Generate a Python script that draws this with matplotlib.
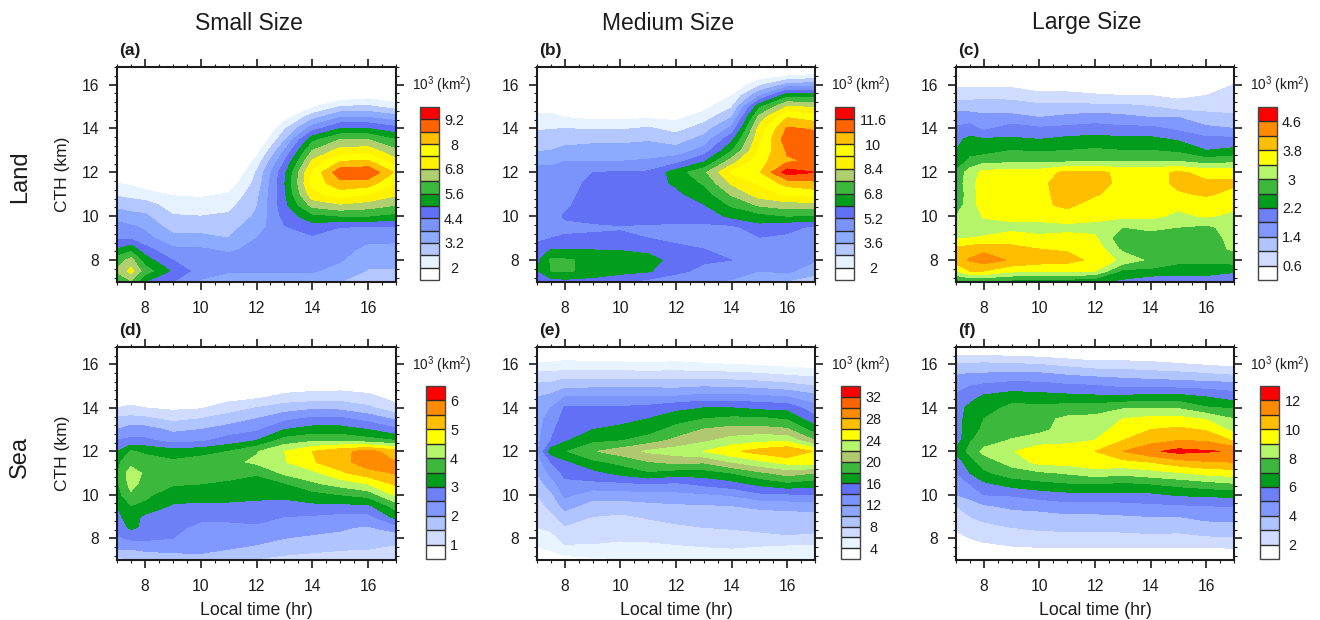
import numpy as np
import matplotlib
matplotlib.use("Agg")
import matplotlib.pyplot as plt
from matplotlib.ticker import MultipleLocator

plt.rcParams['font.family'] = ['Liberation Sans', 'DejaVu Sans']
plt.rcParams['mathtext.fontset'] = 'custom'
plt.rcParams['mathtext.rm'] = 'Liberation Sans'
plt.rcParams['mathtext.it'] = 'Liberation Sans'
plt.rcParams['mathtext.bf'] = 'Liberation Sans:bold'

W, H = 1320, 620

times = [7, 7.5, 8, 9, 10, 11, 12, 13, 14, 15, 16, 17]
heights = [7 + 0.5 * i for i in range(21)]

# One vertical profile per local time, from 7 km upward; the rest of each profile is cloud free.
panel_a = [
 [5.6,6.3,5.9,5.0,4.3,4.0,3.6,3.0,2.5,2.0,1.5,1.1,.8,.6,.4,.3,.2,.1,.1],
 [6.1,7.0,6.4,5.4,4.3,3.9,3.4,2.9,2.4,1.9,1.3,1.0,.7,.5,.4,.3,.2,.1,.1],
 [5.0,5.9,5.3,4.6,4.0,3.7,3.3,2.9,2.2,1.7,1.2,.9,.7,.5,.4,.3,.2,.1,.1],
 [4.4,4.9,4.4,3.9,3.4,2.95,2.65,2.3,1.95,1.5,1.1,.8,.6,.4,.3,.2,.1,.1],
 [3.7,4.1,4.1,3.85,3.4,2.9,2.6,2.25,1.9,1.4,1.0,.7,.5,.4,.3,.2,.1,.1],
 [3.5,3.85,4.0,3.7,3.2,3.0,2.7,2.4,2.05,1.6,1.1,.8,.6,.4,.3,.2,.1,.1],
 [3.5,3.85,3.95,3.95,3.8,3.5,3.3,3.15,3.0,2.8,2.65,2.2,1.7,1.2,.8,.5,.3,.2,.1],
 [3.5,3.85,4.0,4.1,4.2,4.35,4.6,4.8,4.9,4.95,4.85,4.4,3.8,3.1,2.5,1.7,1.0,.6,.3,.1],
 [3.5,3.85,4.0,4.1,4.3,4.7,5.4,6.4,7.2,7.6,7.5,6.9,6.2,5.4,4.1,3.0,1.9,1.0,.5,.2],
 [3.2,3.6,3.85,4.0,4.2,4.4,5.6,6.7,7.7,8.4,9.0,8.0,7.0,6.2,5.0,3.8,2.6,1.5,.8,.3],
 [3.0,3.15,3.4,3.65,3.95,4.35,5.6,6.5,7.4,8.3,9.1,8.1,7.1,6.2,5.0,3.8,2.7,1.7,.9,.3],
 [2.9,3.15,3.4,3.6,3.95,4.3,5.4,6.2,6.9,7.4,7.9,7.0,6.3,5.6,4.6,3.5,2.3,1.5,1.0,.4],
]
panel_b = [
 [5.3,5.95,5.8,5.5,5.0,4.95,4.9,4.9,4.8,4.7,4.6,4.3,3.5,3.2,2.7,2.2,1.7,1.2,.8,.5,.3],
 [5.6,6.8,6.9,6.0,5.2,5.1,5.0,4.9,4.85,4.75,4.6,4.25,3.6,3.25,2.75,2.2,1.7,1.2,.8,.5,.3],
 [5.7,6.9,6.9,6.0,5.25,5.1,5.25,5.1,5.0,4.85,4.65,4.4,3.8,3.3,2.8,2.0,1.4,1.0,.7,.4,.2],
 [5.6,6.6,6.6,5.95,5.3,5.1,5.4,5.5,5.45,5.4,5.2,4.4,3.9,3.4,2.7,1.8,1.3,.9,.6,.3,.1],
 [5.3,6.3,6.6,5.9,5.3,5.15,5.5,5.6,5.6,5.55,5.25,4.4,3.9,3.4,2.7,1.8,1.2,.8,.5,.3,.1],
 [4.9,6.1,6.4,5.7,5.2,5.1,5.5,5.6,5.7,5.7,5.3,4.5,4.0,3.5,2.9,1.9,1.2,.8,.5,.3,.1],
 [4.7,5.4,5.6,5.3,5.1,5.1,5.4,5.75,5.85,6.1,6.4,4.9,3.9,3.2,2.5,1.8,1.2,.8,.5,.3,.1],
 [4.5,5.0,5.3,5.2,5.0,5.05,5.5,5.95,6.4,6.9,7.4,5.9,4.7,3.9,3.2,2.4,1.7,1.2,.7,.3,.1],
 [4.3,4.7,5.2,5.0,4.9,5.0,6.2,6.9,7.7,8.5,9.3,8.0,6.7,5.8,4.6,3.6,2.7,2.0,1.2,.6,.2],
 [3.5,4.4,4.7,4.9,5.15,5.7,6.5,7.7,8.8,9.3,9.9,9.7,9.3,9.0,8.7,7.9,6.6,4.3,2.6,1.2,.5],
 [3.5,4.6,4.9,5.0,5.1,5.35,6.8,8.0,9.3,10.3,12.0,10.7,10.9,11.3,10.9,10.0,8.4,6.5,3.8,1.5,.5],
 [3.3,3.8,4.5,4.8,5.0,5.1,6.7,8.0,9.5,10.6,11.6,10.9,11.0,11.2,10.7,9.6,8.3,6.4,4.0,1.8,.6],
]
panel_c = [
 [2.4,3.4,4.0,3.9,3.35,3.1,3.0,2.8,2.7,2.75,2.7,2.3,2.2,2.1,1.85,1.6,1.2,.85,.5,.2],
 [2.5,3.8,4.25,4.0,3.4,3.2,3.1,3.2,3.2,3.25,3.2,2.7,2.45,2.3,1.95,1.6,1.2,.85,.5,.2],
 [2.5,3.8,4.4,4.1,3.45,3.2,3.45,3.6,3.6,3.65,3.5,2.9,2.4,2.25,1.7,1.5,1.2,.9,.5,.2],
 [2.4,3.5,4.15,3.95,3.55,3.3,3.5,3.65,3.55,3.6,3.6,2.9,2.6,2.25,2.0,1.5,1.2,.85,.5,.2],
 [2.4,3.45,4.0,3.8,3.55,3.1,3.7,3.7,3.7,3.7,3.6,2.9,2.55,2.2,1.85,1.4,1.1,.7,.4,.2],
 [2.3,3.45,3.95,3.75,3.5,3.3,3.6,3.9,3.95,4.0,3.9,2.95,2.6,2.3,1.9,1.5,1.1,.7,.4,.2],
 [2.25,3.4,3.7,3.65,3.45,3.3,3.5,3.6,3.85,3.95,3.9,3.0,2.65,2.35,1.95,1.6,1.1,.65,.3,.1],
 [2.1,2.5,3.3,2.9,2.7,3.0,3.5,3.6,3.6,3.7,3.7,3.0,2.6,2.3,1.9,1.5,1.1,.6,.3,.1],
 [1.85,2.5,2.9,2.8,2.8,3.1,3.5,3.6,3.7,3.6,3.7,3.0,2.6,2.3,1.9,1.4,1.0,.6,.3,.1],
 [1.9,2.4,2.7,2.8,2.8,3.0,3.3,3.5,3.75,3.9,3.85,3.0,2.5,2.15,1.7,1.4,.8,.5,.25,.1],
 [1.9,2.4,2.7,2.85,2.85,2.9,3.45,3.6,3.85,3.85,3.7,2.8,2.2,1.9,1.5,1.1,.9,.6,.3,.1],
 [1.9,2.25,2.8,3.05,3.1,3.2,3.3,3.5,3.7,3.85,3.7,2.9,2.3,1.9,1.4,1.05,.9,.8,.6,.3,.1],
]
panel_d = [
 [1.3,2.0,2.4,2.7,2.9,3.0,3.3,3.4,3.45,3.4,3.0,2.5,2.0,1.6,1.0,.7,.4,.2,.1],
 [1.5,2.0,2.6,3.1,3.2,3.5,3.9,4.2,4.3,3.8,3.55,2.6,2.25,1.65,1.1,.7,.4,.2,.1],
 [1.6,2.1,2.6,2.9,2.9,3.4,3.6,3.8,3.9,3.75,3.4,2.6,2.2,1.6,1.0,.6,.3,.1],
 [1.6,2.2,2.5,2.6,2.8,2.95,3.25,3.55,3.7,3.6,3.2,2.3,1.9,1.35,.9,.5,.3,.1],
 [1.7,2.2,2.4,2.4,2.6,2.9,3.2,3.5,3.7,3.75,3.3,2.4,2.0,1.5,.95,.5,.3,.1],
 [1.5,2.0,2.3,2.4,2.6,2.9,3.2,3.45,3.6,3.85,3.5,2.7,2.25,1.7,1.3,.75,.4,.2],
 [1.45,1.9,2.15,2.4,2.7,2.9,3.1,3.3,3.55,4.1,3.95,3.0,2.4,2.0,1.5,.9,.4,.2],
 [1.3,1.75,2.0,2.2,2.5,2.85,3.1,3.45,4.1,4.45,4.5,3.7,3.0,2.35,1.75,1.15,.7,.3,.1],
 [1.2,1.65,1.95,2.1,2.45,2.9,3.3,3.9,4.35,4.95,5.0,3.9,3.2,2.6,1.9,1.2,.8,.3,.1],
 [1.1,1.55,1.9,2.05,2.35,2.9,3.5,4.2,4.9,5.3,5.35,3.9,3.2,2.6,1.85,1.25,.8,.3,.1],
 [1.1,1.5,1.85,1.95,2.35,2.9,3.7,4.5,5.3,5.8,5.7,3.7,3.0,2.3,1.6,1.15,.7,.3,.1],
 [.9,1.4,1.65,2.3,3.2,3.75,4.6,5.1,5.55,5.5,5.2,3.5,2.6,1.9,1.15,.8,.5,.2],
]
panel_e = [
 [2,3.8,4.6,6,6.6,7.3,8,9,10,11,11.5,11.4,11.2,11,10.8,10,8.5,6.7,4.4,2.5,1],
 [2.5,4.2,5.2,6.5,7.5,8.5,9.5,11,12.5,14,17,14,13.6,13,12,10.5,8.7,6.7,4.4,2.5,1],
 [3,5.5,6.6,7.8,9,10.8,12.5,13.5,14.5,15.5,17.8,15.7,15,14.6,14.2,12,9.5,7.2,4.6,2.8,1],
 [3.5,5.5,6.5,7.5,8,9.2,10.8,13.5,15.3,17.5,19.8,17.5,16,15,14.3,12,9.6,7,4.5,2.7,1],
 [3.8,5.4,6.2,7,7.7,9,11,13.5,16.6,18.5,21,17.9,16.6,15.2,14.3,12,9.8,7,4.5,2.3,.8],
 [4,5.6,6.2,7.3,8.2,9.4,11.3,14,17.7,19.8,22.3,19,17,16,14.6,12.1,9.6,7,4.4,2,.6],
 [4.1,5.7,6.4,7.8,8.4,9.7,11.4,13.6,17,20.5,23,20.5,18.8,17,15.5,12.2,9.5,7,4.5,2.5,1],
 [4,5.8,6.7,8,8.5,9.8,11.7,14.5,17,20.2,24,21.6,20.1,18,16,12.8,9.8,7,4.3,1.7,.5],
 [3.9,5.9,7,8.2,8.8,10,12.2,15.2,18,22,25.6,22.8,20.7,18.4,16,12.8,9.6,6.8,4,1.6,.5],
 [3.8,5.5,7.3,8.5,9.2,10.4,13.5,16.5,19.5,23.5,26.8,23.5,20.7,18.4,15.5,12.5,9.3,6.5,3.7,1.5,.4],
 [3.8,5,7.6,8.8,9.2,10.7,13.7,17.5,20.8,24.7,27.8,23.5,20.3,17.7,15.3,12,8.8,6,3.3,1.3,.4],
 [3.8,5,7.5,8.5,9.3,10.8,14,16.8,20,25,25.8,20,17,14.5,12.8,10.7,8,5.6,3,1.2,.3],
]
panel_f = [
 [.5,1,1.6,2.2,2.6,3,4,4.5,5,5.4,6.2,5.5,5.5,5.6,5.5,5.2,4.6,4,3.2,1.7,.8],
 [.6,1.2,2,2.6,3,3.4,4.4,5,6,6.6,7.3,6.9,6.5,6.4,6.3,5.6,5,4.2,3.1,1.8,.8],
 [.7,1.5,2.3,2.8,3.2,3.9,5,5.8,6.8,7.4,8.3,7.5,7.2,7,6.5,6.2,5.2,4.2,3.2,1.8,.8],
 [.9,1.8,2.5,3,3.6,4.2,5.1,6.4,7.5,8.4,8.9,8.1,7.5,7.4,7.3,6.5,5.5,4.3,3.1,1.6,.7],
 [1,1.9,2.5,3.2,3.7,4.3,5.5,6.7,7.8,9.3,9.8,8.4,7.8,7.7,7.3,6.4,5.4,4.3,3,1.5,.6],
 [1,1.9,2.5,3.3,3.8,4.6,5.7,6.9,8.1,9.4,9.9,8.6,8.3,8.2,7.4,6.3,5.2,4,2.7,1.3,.5],
 [1,1.9,2.5,3.3,3.8,4.6,5.7,7,8.5,9.7,10,9,8.6,8.3,7.5,6.2,5.1,3.8,2.4,1.2,.5],
 [1,1.9,2.6,3.3,3.9,4.6,5.8,6.8,8.3,9.7,11,10,9.4,9,7.9,6.2,4.8,3.7,2.4,1.2,.5],
 [1.1,1.9,2.7,3.4,4,4.8,5.8,7,8.6,10,11.8,10.6,10,9.3,7.9,6.4,4.8,3.5,2.3,1.1,.5],
 [1.2,1.9,2.6,3.4,4,4.9,6.1,7.3,8.9,10.6,12.3,11,10.2,9.3,7.9,6.4,4.7,3.4,2.1,1,.4],
 [1.3,1.9,2.8,3.7,4.2,5,6.2,7.6,9.3,10.9,12.1,10.9,9.9,8.9,7.1,6,4.6,3.2,1.9,1,.4],
 [1.4,1.9,2.9,3.8,4.2,5.1,6.3,7.9,9.5,11,11.9,9.9,8.7,8,6.9,5.5,4.5,3,1.7,.9,.3],
]

levels_a = [2, 2.6, 3.2, 3.8, 4.4, 5, 5.6, 6.2, 6.8, 7.4, 8, 8.6, 9.2]
levels_b = [2, 2.8, 3.6, 4.4, 5.2, 6, 6.8, 7.6, 8.4, 9.2, 10, 10.8, 11.6]
levels_c = [0.6, 1, 1.4, 1.8, 2.2, 2.6, 3, 3.4, 3.8, 4.2, 4.6]
levels_d = [1, 1.5, 2, 2.5, 3, 3.5, 4, 4.5, 5, 5.5, 6]
levels_e = list(range(4, 34, 2))
levels_f = list(range(2, 13))

colors_14 = ['#ffffff', '#e6f2ff', '#b4c8ff', '#8cabff', '#7b94fb', '#6170f5', '#009e1c',
             '#3cb93c', '#b0d070', '#fff200', '#ffff00', '#ffbe00', '#ff6400', '#ff0000']
colors_12 = ['#ffffff', '#d0dcff', '#b0c4ff', '#8098ff', '#6e80f5', '#009e1c', '#3cb93c',
             '#b4f56a', '#ffff00', '#ffbe00', '#ff8c00', '#ff0000']
colors_16 = ['#ffffff', '#e8f4ff', '#d0dcff', '#b0c4ff', '#8ca6ff', '#7b94fb', '#6170f5', '#009e1c',
             '#3cb93c', '#b0c870', '#b4f56a', '#ffff00', '#ffbe00', '#ff8c00', '#ff6400', '#ff0000']

panels = [
    ('(a)', panel_a, levels_a, colors_14, (117, 396, 67, 282), (420, 439, 107, 280), 442, True, False),
    ('(b)', panel_b, levels_b, colors_14, (537, 815, 67, 282), (835, 854, 107, 280), 861, False, False),
    ('(c)', panel_c, levels_c, colors_12, (956, 1234, 67, 282), (1258, 1277, 107, 280), 1280, False, False),
    ('(d)', panel_d, levels_d, colors_12, (117, 396, 347, 560), (426, 445, 386, 559), 442, True, True),
    ('(e)', panel_e, levels_e, colors_16, (537, 815, 347, 560), (841, 860, 386, 559), 861, False, True),
    ('(f)', panel_f, levels_f, colors_12, (956, 1234, 347, 560), (1260, 1279, 386, 559), 1280, False, True),
]

label_centre_px = {1: 9, 2: 13.5, 3: 15, 4: 19}


def rect(box):
    x0, x1, y0, y1 = box
    return [x0 / W, 1 - y1 / H, (x1 - x0) / W, (y1 - y0) / H]


def put(x, y, s, **kw):
    fig.text(x / W, 1 - y / H, s, ha='center', va='center', **kw)


fig = plt.figure(figsize=(W / 100, H / 100), dpi=100)
ink = '#1c1c1c'

for name, data, levels, colors, box, cbox, unit_x, show_y, show_x in panels:
    rows = np.array([p + [0] * (len(heights) - len(p)) for p in data], dtype=float).T
    ax = fig.add_axes(rect(box))
    bounds = [-1] + list(levels) + [1000]
    cf = ax.contourf(times, heights, rows, levels=bounds, colors=colors)
    ax.set_xlim(7, 17)
    ax.set_ylim(7, 16.8)
    ax.xaxis.set_major_locator(MultipleLocator(2))
    ax.xaxis.set_minor_locator(MultipleLocator(0.5))
    ax.yaxis.set_major_locator(MultipleLocator(2))
    ax.yaxis.set_minor_locator(MultipleLocator(0.4))
    ax.tick_params(which='major', direction='out', length=5.5, width=1.2, top=True, right=True,
                   labelsize=11.3, color=ink, labelcolor=ink)
    ax.tick_params(axis='x', which='major', pad=8)
    ax.tick_params(axis='y', which='major', pad=7.5)
    ax.tick_params(which='minor', direction='out', length=2.4, width=0.8, top=True, right=True, color=ink)
    for s in ax.spines.values():
        s.set_linewidth(1.5)
        s.set_color(ink)
    if show_y:
        ax.set_ylabel('CTH (km)', fontsize=12.5, color=ink, labelpad=8)
    if show_x:
        ax.set_xlabel('Local time (hr)', fontsize=12.7, color=ink, labelpad=6)
    fig.text((box[0] + 2) / W, 1 - (box[2] - 16) / H, name, ha='left', va='center',
             fontsize=12.5, fontweight='bold', color=ink)

    tick_levels = levels[::2]
    tick_text = [f'{v:g}' for v in tick_levels]
    cax = fig.add_axes(rect(cbox))
    cb = fig.colorbar(cf, cax=cax, spacing='uniform', drawedges=True)
    cb.set_ticks(tick_levels, labels=tick_text)
    centre = label_centre_px[max(len(t) for t in tick_text)]
    cb.ax.tick_params(length=0, labelsize=10.4, pad=centre * 0.72, labelcolor=ink)
    for lab in cb.ax.get_yticklabels():
        lab.set_ha('center')
    cb.ax.minorticks_off()
    cb.outline.set_linewidth(1.0)
    cb.outline.set_edgecolor('#444444')
    cb.dividers.set_linewidth(1.0)
    cb.dividers.set_color('#2a2a2a')
    put(unit_x, box[2] + 18.5, r'10$^{3}$ (km$^{2}$)', fontsize=9.8, color=ink)

put(249, 24, 'Small Size', fontsize=16.5, color=ink)
put(668, 24, 'Medium Size', fontsize=16.5, color=ink)
put(1087, 22, 'Large Size', fontsize=16.5, color=ink)
put(20, 177, 'Land', fontsize=17, rotation=90, color=ink)
put(20, 457, 'Sea', fontsize=17, rotation=90, color=ink)

fig.savefig('out.png', dpi=100)
